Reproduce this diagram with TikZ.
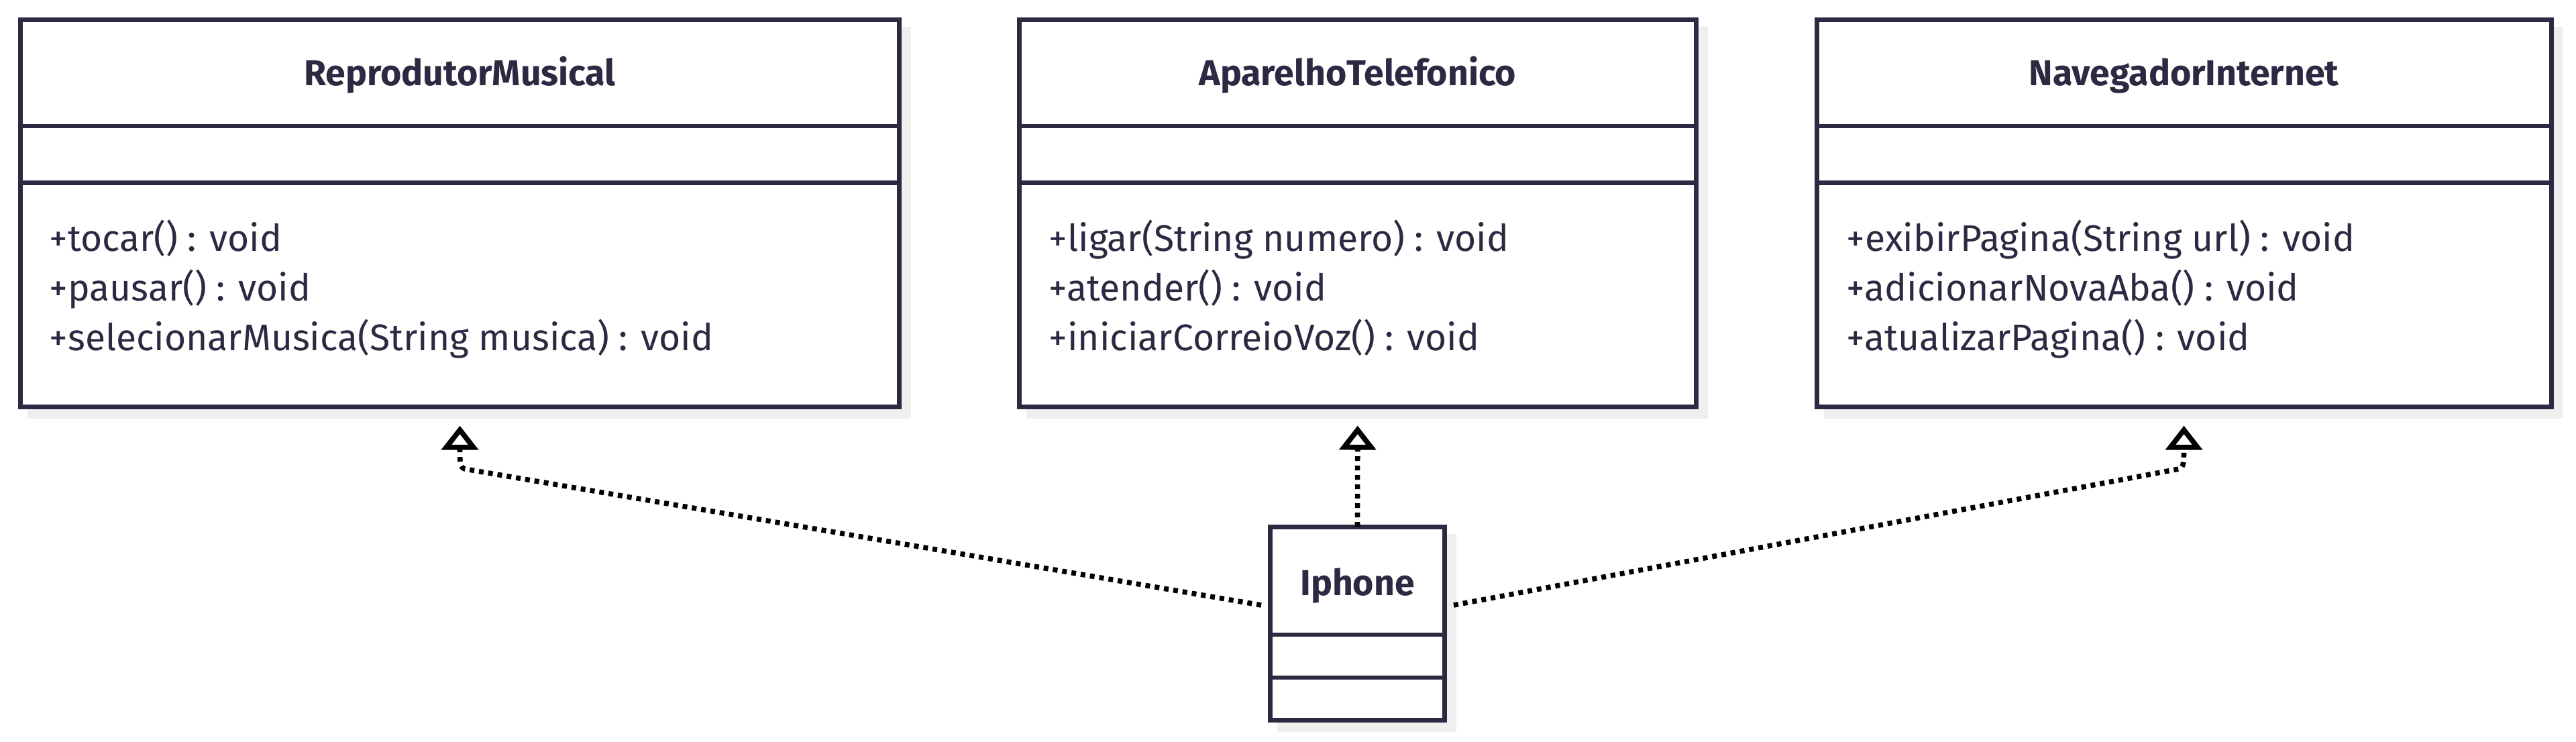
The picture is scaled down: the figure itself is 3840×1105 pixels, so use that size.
\documentclass[tikz,border=0pt]{standalone}
\usepackage{fontspec}
\setmainfont{Fira Sans}
\usetikzlibrary{arrows.meta,backgrounds}
\definecolor{ink}{HTML}{2B2A42}
\definecolor{shade}{HTML}{EFEFEF}
\begin{document}
\begin{tikzpicture}[x=0.25pt,y=-0.25pt,
  classbox/.style={draw=ink,line width=1.75pt,fill=white,inner sep=0pt,outer sep=0pt,anchor=north west},
  divider/.style={draw=ink,line width=1.6pt},
  classtitle/.style={font=\fontsize{13.4}{16}\selectfont\bfseries,text=ink,anchor=base,inner sep=0pt},
  member/.style={font=\fontsize{13.8}{16}\selectfont,text=ink,anchor=base west,inner sep=0pt},
  realize/.style={draw=black,line width=1.9pt,dash pattern=on 1.75pt off 1.75pt,-{Triangle[open,length=9pt,width=13.5pt]}},
  shadowfill/.style={fill=shade}
]
\useasboundingbox (0,0) rectangle (3840,1105);

% class boxes
\node[classbox,minimum width={1310*0.25pt},minimum height={577.5*0.25pt}] (b1) at (30.5,29) {};
\node[classbox,minimum width={1009.5*0.25pt},minimum height={577.5*0.25pt}] (b2) at (1519,29) {};
\node[classbox,minimum width={1095*0.25pt},minimum height={577.5*0.25pt}] (b3) at (2708,29) {};
\node[classbox,minimum width={260*0.25pt},minimum height={288*0.25pt}] (ip) at (1893.5,785) {};

\begin{scope}[on background layer]
  \foreach \b in {b1,b2,b3,ip}{
    \fill[shadowfill] ([shift={(10.5,10.5)}]\b.north west) rectangle ([shift={(17.5,17.5)}]\b.south east);
  }
\end{scope}

% dividers
\foreach \b in {b1,b2,b3}{
  \draw[divider] ([shift={(0,159)}]\b.north west) -- ([shift={(0,159)}]\b.north east);
  \draw[divider] ([shift={(0,243.6)}]\b.north west) -- ([shift={(0,243.6)}]\b.north east);
}
\draw[divider] ([shift={(0,161)}]ip.north west) -- ([shift={(0,161)}]ip.north east);
\draw[divider] ([shift={(0,225)}]ip.north west) -- ([shift={(0,225)}]ip.north east);

% titles
\node[classtitle] (t1) at (685.5,127.6) {ReprodutorMusical};
\node[classtitle] (t2) at (2023.8,127.6) {AparelhoTelefonico};
\node[classtitle] (t3) at (3255.5,127.6) {NavegadorInternet};
\node[classtitle] (t4) at (2023.5,887) {Iphone};

% members
\node[member] (m11) at (73,374) {+tocar() : void};
\node[member] (m12) at (73,448) {+pausar() : void};
\node[member] (m13) at (73,522) {+selecionarMusica(String musica) : void};
\node[member] (m21) at (1563,374) {+ligar(String numero) : void};
\node[member] (m22) at (1563,448) {+atender() : void};
\node[member] (m23) at (1563,522) {+iniciarCorreioVoz() : void};
\node[member] (m31) at (2752,374) {+exibirPagina(String url) : void};
\node[member] (m32) at (2752,448) {+adicionarNovaAba() : void};
\node[member] (m33) at (2752,522) {+atualizarPagina() : void};

% realizations
\coordinate (s1) at (1880,902);
\coordinate (s3) at (2167,902);
\draw[realize] (s1) -- (693,699) .. controls (686,697) and (685.5,690) .. ([shift={(0,28)}]b1.south);
\draw[realize] (ip.north) -- ([shift={(0,28)}]b2.south);
\draw[realize] (s3) -- (3248,699) .. controls (3255,697) and (3255.5,690) .. ([shift={(0,28)}]b3.south);
\end{tikzpicture}
\end{document}
